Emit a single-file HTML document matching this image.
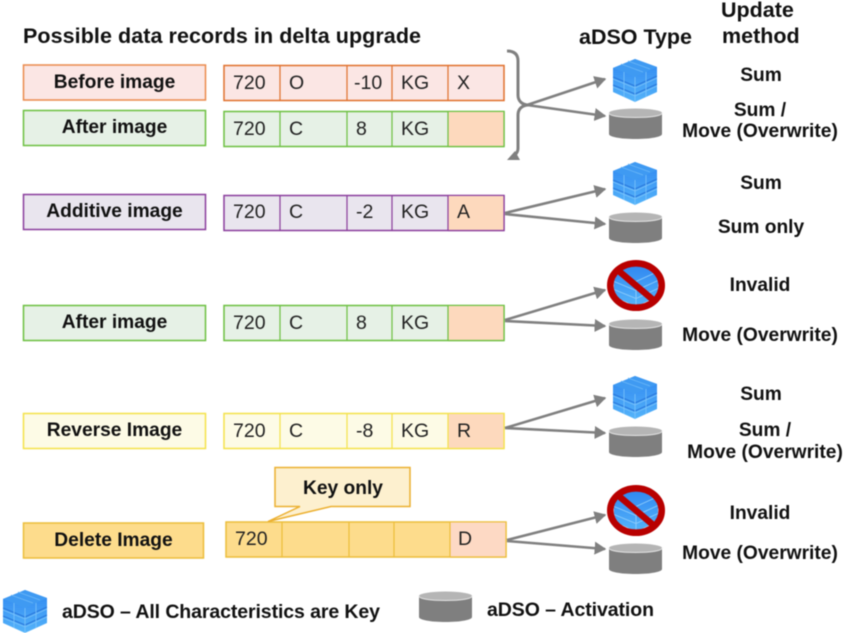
<!DOCTYPE html>
<html><head><meta charset="utf-8"><style>
html,body{margin:0;padding:0;background:#fff}
svg{display:block;filter:blur(.4px)}
text{font-family:"Liberation Sans",sans-serif;fill:#111}
.b{font-weight:bold;text-anchor:middle;font-size:19.200px}
.c{font-size:19.500px;fill:#222}
.h{font-weight:bold;font-size:21.500px}
.a{stroke:#808080;stroke-width:2.600;fill:none}
</style></head><body>
<svg width="847" height="633" viewBox="0 0 847 633" xmlns="http://www.w3.org/2000/svg">
<defs>
<linearGradient id="bl" x1="0" y1="0" x2="0" y2="1"><stop offset="0" stop-color="#2f86f0"/><stop offset="1" stop-color="#55b4fa"/></linearGradient>
<g id="cube">
<path d="M22 0L44 8V33L22 43L0 33V9Z" fill="url(#bl)"/>
<path d="M0 9L22 18L44 8L22 0Z" fill="#3f9af2"/>
<path d="M0 18L22 27L44 17M0 26L22 35L44 25" stroke="#2a78dc" stroke-width="1.200" fill="none"/>
<path d="M0 20L22 29L44 19M0 28L22 37L44 27M22 18V43M11 13V38M33 13V38" stroke="#7cc4fa" stroke-width=".8" fill="none"/>
<path d="M8 5L30 13M15 2L37 10" stroke="#6cb8f8" stroke-width=".8" fill="none"/>
</g>
<g id="cyl">
<path d="M0 5V26C0 29 12 31 26.500 31C41 31 53 29 53 26V5Z" fill="#7f7f7f"/>
<ellipse cx="26.500" cy="5" rx="26.500" ry="4.500" fill="#b5b5b5"/>
<path d="M0 5C0 8 12 9.500 26.500 9.500C41 9.500 53 8 53 5" stroke="#e4e4e4" stroke-width="1" fill="none"/>
</g>
<g id="no">
<ellipse rx="26" ry="22" fill="#fff"/>
<g transform="translate(-22,-22)"><path d="M22 0L44 8V33L22 43L0 33V9Z" fill="url(#bl)"/><path d="M0 18L22 27L44 17M0 26L22 35L44 25M22 18V43M0 9L22 18L44 8" stroke="#8fcdfb" stroke-width=".9" fill="none"/></g>
<ellipse rx="25.700" ry="22.200" fill="none" stroke="#b80000" stroke-width="6.600"/>
<path d="M-19 -16L19 16" stroke="#b80000" stroke-width="6.500"/>
</g>
<marker id="m" markerWidth="5" markerHeight="5" refX="4" refY="2.500" orient="auto" markerUnits="strokeWidth"><path d="M0 0L4.500 2.500L0 5Z" fill="#808080"/></marker>
</defs>

<text x="23" y="43" font-size="21.500" font-weight="bold" textLength="398" lengthAdjust="spacing">Possible data records in delta upgrade</text>
<text x="579" y="44" class="h" textLength="113">aDSO Type</text>
<text x="721" y="17" class="h">Update</text>
<text x="722" y="43" class="h">method</text>

<!-- Row 1 -->
<rect x="23.500" y="65" width="182" height="35" fill="#fbe6e4" stroke="#ea8a4c" stroke-width="1.500"/>
<text x="114.500" y="88" class="b">Before image</text>
<rect x="224" y="65.500" width="280" height="35" fill="#fbe6e4" stroke="#e0702c" stroke-width="1.500"/>
<path d="M280 65V101M347 65V101M392 65V101M448 65V101" stroke="#e0702c" stroke-width="1.200"/>
<text x="233" y="89" class="c">720</text><text x="289" y="89" class="c">O</text><text x="354" y="89" class="c">-10</text><text x="401" y="89" class="c">KG</text><text x="457" y="89" class="c">X</text>

<!-- Row 2 -->
<rect x="23.500" y="110.500" width="182" height="35" fill="#e6f1e6" stroke="#6cc040" stroke-width="1.500"/>
<text x="114.500" y="133" class="b">After image</text>
<rect x="224" y="111.500" width="280" height="35" fill="#e6f1e6" stroke="#6cc040" stroke-width="1.500"/>
<rect x="448" y="112" width="56" height="34" fill="#fdd9bd"/>
<path d="M280 111V147M347 111V147M392 111V147M448 111V147M504 111V147M448 146.500H504" stroke="#6cc040" stroke-width="1.200"/>
<text x="233" y="135" class="c">720</text><text x="289" y="135" class="c">C</text><text x="356" y="135" class="c">8</text><text x="401" y="135" class="c">KG</text>

<!-- Brace -->
<path d="M507 51C514 51 518 54 518 61V95C518 101 522 105 529 105C522 105 518 109 518 115V148C518 153 515 155 512 157" fill="none" stroke="#808080" stroke-width="3"/>
<path d="M507 160L520 160L515 151Z" fill="#808080"/>
<path class="a" d="M527 105L605 79" marker-end="url(#m)"/>
<path class="a" d="M527 105L605 116" marker-end="url(#m)"/>

<!-- Row 3 -->
<rect x="23.500" y="194.500" width="182" height="35" fill="#e9e5ee" stroke="#8a3d9c" stroke-width="1.500"/>
<text x="114.500" y="217" class="b">Additive image</text>
<rect x="224" y="195.500" width="280" height="35" fill="#e9e5ee" stroke="#8a3d9c" stroke-width="1.500"/>
<rect x="448" y="196" width="56" height="34" fill="#fdd9bd"/>
<path d="M280 195V231M347 195V231M392 195V231M448 195V231M504 195V231M448 230.500H504" stroke="#8a3d9c" stroke-width="1.200"/>
<text x="233" y="218" class="c">720</text><text x="289" y="218" class="c">C</text><text x="356" y="218" class="c">-2</text><text x="401" y="218" class="c">KG</text><text x="457" y="218" class="c">A</text>
<path class="a" d="M505 213L605 189" marker-end="url(#m)"/>
<path class="a" d="M505 214L605 224" marker-end="url(#m)"/>

<!-- Row 4 -->
<rect x="23.500" y="305.500" width="182" height="35" fill="#e6f1e6" stroke="#6cc040" stroke-width="1.500"/>
<text x="114.500" y="328" class="b">After image</text>
<rect x="224" y="305.500" width="280" height="35" fill="#e6f1e6" stroke="#6cc040" stroke-width="1.500"/>
<rect x="448" y="306" width="56" height="34" fill="#fdd9bd"/>
<path d="M280 305V341M347 305V341M392 305V341M448 305V341M504 305V341M448 340.500H504" stroke="#6cc040" stroke-width="1.200"/>
<text x="233" y="329" class="c">720</text><text x="289" y="329" class="c">C</text><text x="356" y="329" class="c">8</text><text x="401" y="329" class="c">KG</text>
<path class="a" d="M505 320L605 290" marker-end="url(#m)"/>
<path class="a" d="M505 321L605 326" marker-end="url(#m)"/>

<!-- Row 5 -->
<rect x="23.500" y="413.500" width="182" height="35" fill="#fdfbe6" stroke="#f4e24a" stroke-width="1.500"/>
<text x="114.500" y="436" class="b">Reverse Image</text>
<rect x="224" y="413.500" width="280" height="35" fill="#fdfbe6" stroke="#f4e24a" stroke-width="1.500"/>
<rect x="448" y="414" width="56" height="34" fill="#fdd9bd"/>
<path d="M280 413V449M347 413V449M392 413V449M448 413V449M504 413V449M448 448.500H504" stroke="#f4e24a" stroke-width="1.200"/>
<text x="233" y="437" class="c">720</text><text x="289" y="437" class="c">C</text><text x="356" y="437" class="c">-8</text><text x="401" y="437" class="c">KG</text><text x="457" y="437" class="c">R</text>
<path class="a" d="M505 428L605 398" marker-end="url(#m)"/>
<path class="a" d="M505 428L605 433" marker-end="url(#m)"/>

<!-- Row 6 -->
<rect x="23.500" y="523" width="180" height="35" fill="#fddc8c" stroke="#ecbd3a" stroke-width="1.500"/>
<text x="113.500" y="546" class="b">Delete Image</text>
<rect x="226" y="522" width="280" height="35" fill="#fddc8c" stroke="#ecbd3a" stroke-width="1.500"/>
<rect x="450" y="522.500" width="56" height="34" fill="#fdd9c4"/>
<path d="M282 522V557M349 522V557M394 522V557M450 522V557M506 522V557M450 557H506" stroke="#ecbd3a" stroke-width="1.200"/>
<text x="235" y="545" class="c">720</text><text x="458" y="545" class="c">D</text>
<path d="M275 467.500H410V506.500H331L268 521.500L300 506.500H275Z" fill="#fdf0cf" stroke="#ecb030" stroke-width="1.500"/>
<text x="343" y="494" class="b">Key only</text>
<path class="a" d="M507 540L605 515" marker-end="url(#m)"/>
<path class="a" d="M507 541L605 549" marker-end="url(#m)"/>

<!-- Icons -->
<use href="#cube" x="613" y="59"/>
<use href="#cyl" x="609" y="108"/>
<use href="#cube" x="613" y="162"/>
<use href="#cyl" x="609" y="212"/>
<use href="#no" x="636" y="285.500"/>
<use href="#cyl" x="609" y="319"/>
<use href="#cube" x="613" y="376"/>
<use href="#cyl" x="609" y="426"/>
<use href="#no" x="636" y="510.500"/>
<use href="#cyl" x="609" y="543"/>
<use href="#cube" x="3" y="590"/>
<use href="#cyl" x="419" y="591"/>

<!-- Update methods -->
<text x="761" y="81" class="b">Sum</text>
<text x="760" y="116" class="b">Sum /</text>
<text x="760" y="137" class="b">Move (Overwrite)</text>
<text x="761" y="189" class="b">Sum</text>
<text x="761" y="233" class="b">Sum only</text>
<text x="760" y="291" class="b">Invalid</text>
<text x="760" y="341" class="b">Move (Overwrite)</text>
<text x="761" y="400" class="b">Sum</text>
<text x="765" y="436" class="b">Sum /</text>
<text x="765" y="458" class="b">Move (Overwrite)</text>
<text x="760" y="519" class="b">Invalid</text>
<text x="760" y="559" class="b">Move (Overwrite)</text>

<!-- Legend -->
<text x="62" y="618" font-size="19.500" font-weight="bold" textLength="318" lengthAdjust="spacing">aDSO – All Characteristics are Key</text>
<text x="487" y="616" font-size="19.500" font-weight="bold" textLength="167" lengthAdjust="spacing">aDSO – Activation</text>
</svg>
</body></html>
